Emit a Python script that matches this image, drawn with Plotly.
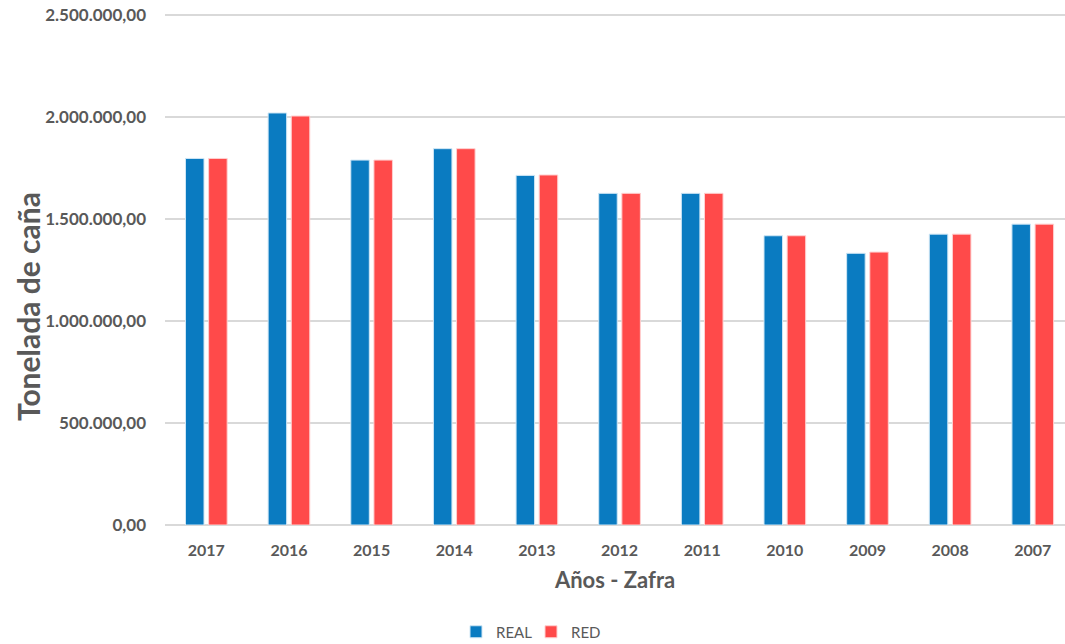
import plotly.graph_objects as go

years = ["2017", "2016", "2015", "2014", "2013", "2012", "2011", "2010", "2009", "2008", "2007"]
real = [1797000, 2020000, 1789000, 1845000, 1714000, 1626000, 1626000, 1418000, 1332000, 1426000, 1475000]
red = [1797000, 2005000, 1789000, 1845000, 1716000, 1626000, 1626000, 1418000, 1338000, 1426000, 1475000]
y_ticks = [0, 500000, 1000000, 1500000, 2000000, 2500000]

BLUE = "#0a7bc1"
RED = "#ff4a4a"
GRAY = "#595959"
FONT = "Lato"

fig = go.Figure()
fig.add_trace(go.Bar(name="REAL", x=years, y=real, marker=dict(color=BLUE, line=dict(color="#cfe6f5", width=1))))
fig.add_trace(go.Bar(name="RED", x=years, y=red, marker=dict(color=RED, line=dict(color="#ffd0d0", width=1))))

fig.update_layout(
    width=1065, height=644,
    margin=dict(l=165, r=0, t=12, b=119, autoexpand=False),
    paper_bgcolor="white", plot_bgcolor="white",
    barmode="group", bargap=0.44, bargroupgap=0.2,
    separators=",.",
    font=dict(family=FONT, color=GRAY),
    showlegend=True,
    legend=dict(orientation="h", x=(531 - 165) / 900, y=(644 - 632) / 644, yref="container",
                xanchor="center", yanchor="middle", entrywidth=30, entrywidthmode="pixels",
                font=dict(size=15, color=GRAY, family=FONT), tracegroupgap=0),
    xaxis=dict(range=[-0.5, 10.39], showgrid=False, showline=False, ticks="",
               ticklabelstandoff=14,
               tickfont=dict(size=16, color=GRAY, family=FONT, weight="bold"),
               title=dict(text="Años - Zafra", font=dict(size=22, color=GRAY, family=FONT, weight="bold"), standoff=14)),
    yaxis=dict(range=[0, 2515000], tickvals=y_ticks, tickformat=",.2f",
               showgrid=True, gridcolor="#d9d9d9", gridwidth=1.5,
               zeroline=True, zerolinecolor="#d9d9d9", zerolinewidth=1.5,
               showline=False, ticks="", ticklabelstandoff=18,
               tickfont=dict(size=17, color=GRAY, family=FONT, weight="bold")),
)

fig.add_annotation(text="Tonelada de caña", xref="paper", yref="paper",
                   x=(28 - 165) / 900, y=(525 - 307) / 513, textangle=-90, showarrow=False,
                   font=dict(size=30, color=GRAY, family=FONT, weight="bold"), xanchor="center", yanchor="middle")

fig.write_html("out.html")
